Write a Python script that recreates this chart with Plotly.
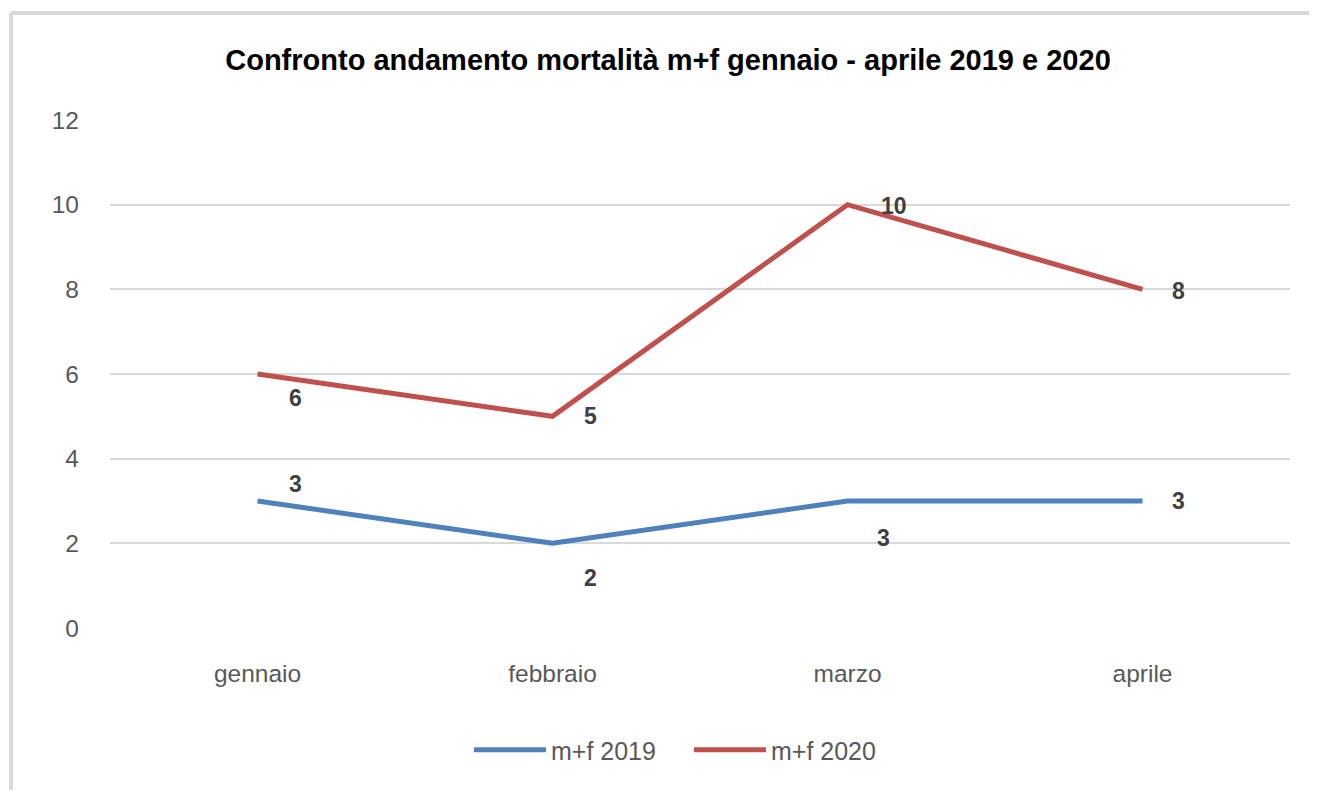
import plotly.graph_objects as go

months = ["gennaio", "febbraio", "marzo", "aprile"]
vals_2019 = [3, 2, 3, 3]
vals_2020 = [6, 5, 10, 8]
y_ticks = [0, 2, 4, 6, 8, 10, 12]
series_names = ["m+f 2019", "m+f 2020"]
colors = ["#4F81BD", "#C0504D"]

# label offsets in pixels (style)
offs_2019 = [(38, -17), (38, 35), (36, 37), (36, 0)]
offs_2020 = [(38, 24), (38, 0), (46, 1), (36, 2)]

fig = go.Figure()
for name, vals, col in [(series_names[0], vals_2019, colors[0]), (series_names[1], vals_2020, colors[1])]:
    fig.add_trace(go.Scatter(x=months, y=vals, mode="lines", name=name,
                             line=dict(color=col, width=5), hoverinfo="x+y"))

ann = []
for vals, offs in [(vals_2019, offs_2019), (vals_2020, offs_2020)]:
    for m, v, (dx, dy) in zip(months, vals, offs):
        ann.append(dict(x=m, y=v, xref="x", yref="y", text=str(v), showarrow=False,
                        xshift=dx, yshift=-dy,
                        font=dict(family="Liberation Sans", size=23, color="#404040", weight="bold")))

# page body has an 8px margin; figure coordinates = page coordinates - 8
OFF = 8
W, H = 1309, 782
L, T = 110 - OFF, 120 - OFF
R = W - (1290 - OFF)
B = H - (628 - OFF)
pw, ph = W - L - R, H - T - B
def px(x):
    return (x - OFF - L) / pw
def py(y):
    return (H - B - (y - OFF)) / ph

shapes = [
    dict(type="line", xref="paper", yref="paper", x0=px(11), x1=px(1330), y0=py(13), y1=py(13),
         line=dict(color="#d9d9d9", width=4)),
    dict(type="line", xref="paper", yref="paper", x0=px(11), x1=px(11), y0=py(13), y1=py(800),
         line=dict(color="#d9d9d9", width=4)),
]

fig.update_layout(
    width=W, height=H,
    margin=dict(l=L, r=R, t=T, b=B),
    paper_bgcolor="white", plot_bgcolor="white",
    font=dict(family="Liberation Sans", color="#595959"),
    title=dict(text="Confronto andamento mortalità m+f gennaio - aprile 2019 e 2020",
               x=(668 - OFF) / W, xanchor="center", y=1 - (60 - OFF) / H, yanchor="middle",
               font=dict(family="Liberation Sans", size=29, color="#000000", weight="bold")),
    xaxis=dict(range=[-0.5, 3.5], showgrid=False, showline=False, zeroline=False, ticks="",
               tickfont=dict(size=24.5, color="#595959"), ticklabelstandoff=28),
    yaxis=dict(range=[0, 12], tickvals=y_ticks, showgrid=True, gridcolor="#d9d9d9", gridwidth=1.5,
               zeroline=False, showline=False, ticks="",
               tickfont=dict(size=24.5, color="#595959"), ticklabelstandoff=30),
    legend=dict(orientation="h", x=px(689), xanchor="center", y=py(750), yanchor="middle",
                font=dict(size=25, color="#595959"), itemwidth=72, entrywidth=133,
                traceorder="normal"),
    annotations=ann,
    shapes=shapes,
)

fig.write_html("out.html")
